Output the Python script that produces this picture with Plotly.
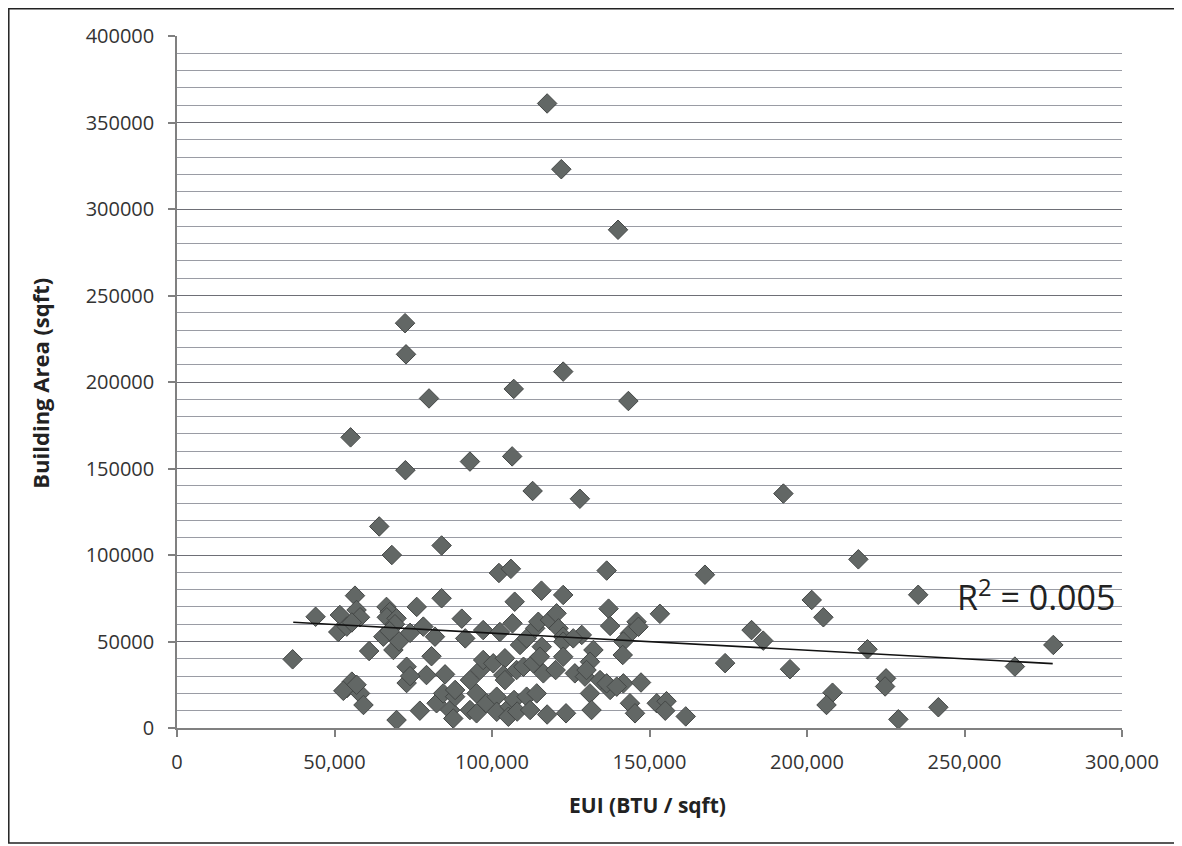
import plotly.graph_objects as go

# EUI (BTU / sqft) in thousands, Building Area (sqft) in thousands
eui_k = [117.5, 122, 140, 72.4, 72.7, 122.6, 106.9, 80, 143.3, 55.1, 93, 106.4, 72.5, 112.9, 127.9,
         192.5, 64.2, 84, 68.2, 102.2, 106, 136.4, 167.6, 216.3, 235.3, 201.5, 205.2, 182.4, 186.1,
         278.2, 174, 219.2, 194.6, 266, 225.1, 224.8, 208.1, 206.2, 241.7, 229, 161.5, 153.3, 36.7, 44,
         51.7, 51.2, 53.9, 56.5, 57, 58.1, 55.5, 61, 53.9, 55.5, 52.8, 58.1, 59.2, 57,
         66.5, 67.5, 66.6, 69.7, 69.2, 65.5, 67.5, 68.7, 70.5, 69.7,
         76.1, 84, 78.2, 81.9, 74, 72.9, 80.8, 72.9, 79.2, 85.1, 77.1, 82.4, 84.5, 86.7, 87.7, 88.3, 88.3, 74,
         90.4, 91.5, 97.2, 93, 95.1, 93, 95.1, 98.3, 96.2, 97.2, 100.4, 101.5, 101.5,
         102.5, 106.5, 107.2, 108.9, 111, 113.7, 114.7, 115.7, 118.4, 120.5, 121.1, 122.6, 122.6, 122.6,
         115.8, 128.5, 104.1, 103.6, 107.8, 104.1, 110, 113.1, 115.2, 116.3, 120.2, 122.6, 126.3,
         105.7, 105.2, 107, 108, 111, 112.1, 114.2, 117.5, 123.5, 125.8,
         137, 137.5, 145.9, 143.8, 141.7, 141.5, 146.5, 132.2, 131.1, 129.5, 134.3, 137.5, 141.7, 147.3,
         131.1, 131.6, 143.8, 145.4, 152.3, 155.4, 155, 130, 136.4, 139.6]
area_k = [361, 323, 288, 234, 216, 206, 196, 190.5, 189, 168, 154, 157, 149, 137, 132.5,
          135.5, 116.5, 105.5, 100, 89.6, 92, 91, 88.6, 97.5, 77, 74, 64, 56.6, 50.5,
          48, 37.5, 45.5, 34, 35.5, 28.7, 24, 20.4, 13.3, 12, 5, 6.7, 66, 39.7, 64.3,
          65.3, 55.5, 58.6, 76.5, 68.2, 64, 61, 44.5, 23, 26.8, 21.5, 20, 13.3, 25,
          70, 67, 64, 63.4, 60, 52.8, 56, 45.1, 50, 4.6,
          70, 75, 58.6, 52.8, 55, 35.4, 41.5, 26, 30.6, 31, 10, 14.3, 20, 10.4, 5.5, 18.1, 22, 30,
          63.2, 51.8, 56.6, 27.7, 20, 10.4, 8.5, 14.3, 33.5, 39.3, 37.4, 18.1, 9.4,
          55.5, 60.5, 73, 48, 51.8, 57.6, 61.4, 79.4, 62.4, 66.3, 57.6, 52.8, 49.9, 76.9,
          47, 53.8, 40.3, 30.6, 33.5, 27.7, 35.4, 37.4, 41.2, 31.6, 33.5, 41.2, 31.6,
          12.3, 6.5, 16.2, 9.5, 18.1, 10.4, 20, 7.8, 8.5, 51.8,
          69, 59, 61.4, 54.7, 50, 42.2, 58.5, 45.1, 38.3, 29.7, 27.7, 22, 25.8, 26.3,
          20, 10.4, 14.3, 8.5, 14.3, 15.5, 10, 33.5, 25.8, 23.9]

eui = [v * 1000 for v in eui_k]
area = [v * 1000 for v in area_k]

# Linear trendline (start / end of fitted line)
trend_eui = [36900, 278000]
trend_area = [61100, 37200]
r2_text = "R<sup>2</sup> = 0.005"
x_title = "<b>EUI (BTU / sqft)</b>"
y_title = "<b>Building Area (sqft)</b>"

x_ticks = [0, 50000, 100000, 150000, 200000, 250000, 300000]
y_ticks = [0, 50000, 100000, 150000, 200000, 250000, 300000, 350000, 400000]

font_fam = "Open Sans, Liberation Sans, sans-serif"

fig = go.Figure()
fig.add_trace(go.Scatter(
    x=eui, y=area, mode="markers",
    marker=dict(symbol="diamond", size=15, color="#626765",
                line=dict(color="#444746", width=1)),
    showlegend=False, hoverinfo="x+y"))
fig.add_trace(go.Scatter(
    x=trend_eui, y=trend_area, mode="lines",
    line=dict(color="#111111", width=1.6), showlegend=False, hoverinfo="skip"))

fig.update_layout(
    width=1174, height=838,
    margin=dict(l=169, r=60, t=28, b=118),
    paper_bgcolor="white", plot_bgcolor="white",
    font=dict(family=font_fam, color="#333333", size=20),
    xaxis=dict(range=[0, 300000], tickvals=x_ticks, tickformat=",d",
               showgrid=False, zeroline=False, showline=True, linecolor="#808080", linewidth=1.5,
               ticks="outside", ticklen=7, tickcolor="#808080", tickwidth=1.5,
               ticklabelstandoff=8,
               tickfont=dict(size=20, color="#333333")),
    yaxis=dict(range=[0, 400000], tickvals=y_ticks, tickformat="d",
               showgrid=True, gridcolor="#6e6f76", gridwidth=1.3,
               minor=dict(dtick=10000, showgrid=True, gridcolor="#9a9ca4", gridwidth=1),
               zeroline=False, showline=True, linecolor="#808080", linewidth=1.5,
               ticks="outside", ticklen=7, tickcolor="#808080", tickwidth=1.5,
               ticklabelstandoff=10,
               tickfont=dict(size=20, color="#333333")),
    annotations=[
        dict(x=0.995, y=0.192, xref="paper", yref="paper", text=r2_text,
             showarrow=False, xanchor="right", yanchor="middle",
             font=dict(size=34, color="#222222", family=font_fam)),
        dict(x=0.498, y=-0.111, xref="paper", yref="paper", text=x_title,
             showarrow=False, xanchor="center", yanchor="middle",
             font=dict(size=21, color="#222222", family=font_fam)),
        dict(x=-0.145, y=0.499, xref="paper", yref="paper", text=y_title, textangle=-90,
             showarrow=False, xanchor="center", yanchor="middle",
             font=dict(size=22, color="#222222", family=font_fam)),
    ],
    shapes=[dict(type="rect", xref="paper", yref="paper",
                 x0=-0.1780, x1=1.0614, y0=-0.1662, y1=1.0393,
                 line=dict(color="#222222", width=1.5), fillcolor="rgba(0,0,0,0)", layer="above")],
)

fig.write_html("out.html")
